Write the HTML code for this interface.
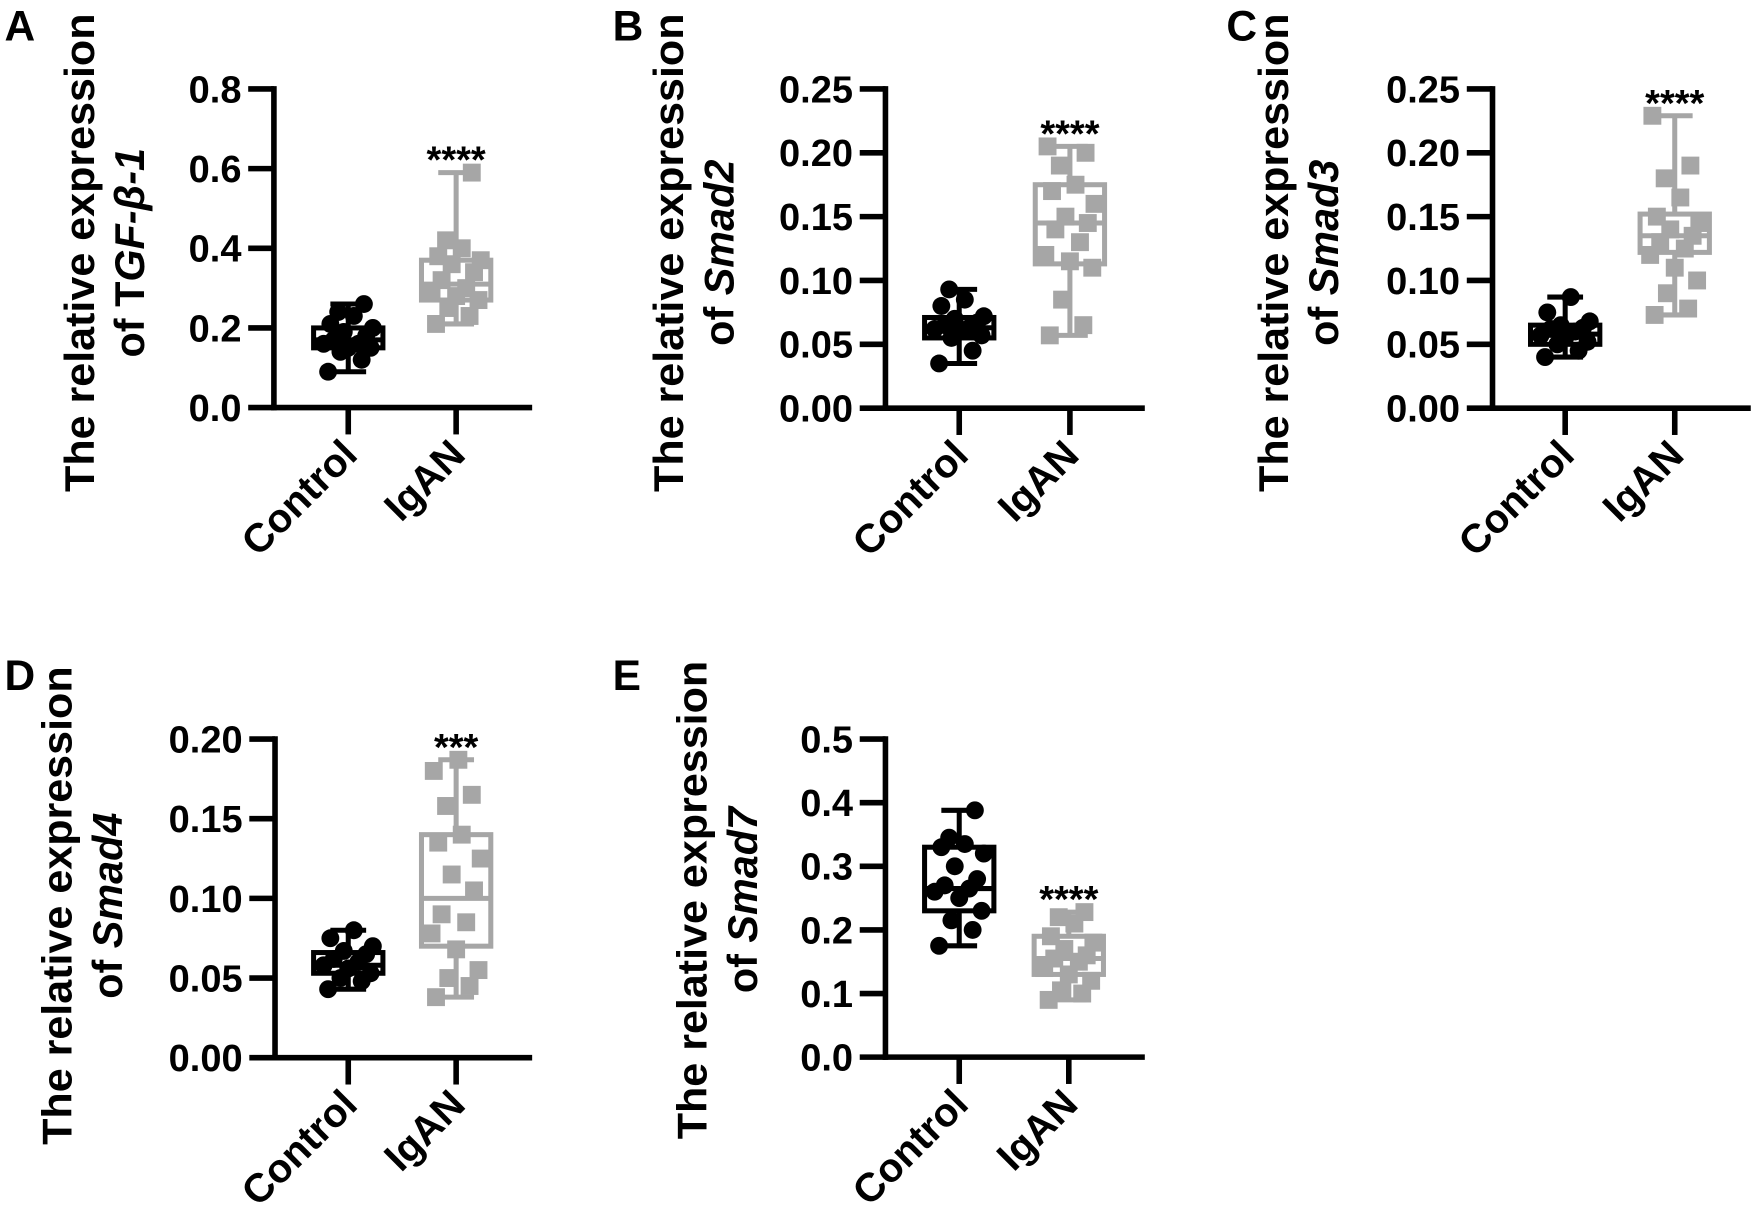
<!DOCTYPE html>
<html><head><meta charset="utf-8">
<style>
html,body{margin:0;padding:0;background:#fff;}
svg{display:block;}
text{font-family:"Liberation Sans",Arial,sans-serif;font-weight:bold;}
</style></head>
<body>
<svg id="fig" width="1753" height="1221" viewBox="0 0 1568 1092" xmlns="http://www.w3.org/2000/svg"></svg>
<script>
// ---- data ----
const groups = ["Control", "IgAN"];
const panelLetters = ["A", "B", "C", "D", "E"];
const genes = ["TGF-β-1", "Smad2", "Smad3", "Smad4", "Smad7"];
const yMax = [0.8, 0.25, 0.25, 0.20, 0.5];
const tickLabelsA = ["0.0","0.2","0.4","0.6","0.8"];
const tickLabelsB = ["0.00","0.05","0.10","0.15","0.20","0.25"];
const tickLabelsC = ["0.00","0.05","0.10","0.15","0.20","0.25"];
const tickLabelsD = ["0.00","0.05","0.10","0.15","0.20"];
const tickLabelsE = ["0.0","0.1","0.2","0.3","0.4","0.5"];
const stars = ["****","****","****","***","****"];
// box stats [min, q1, median, q3, max]
const boxA_ctrl = [0.09, 0.15, 0.17, 0.20, 0.26];
const boxA_igan = [0.21, 0.27, 0.31, 0.37, 0.59];
const boxB_ctrl = [0.035, 0.055, 0.063, 0.071, 0.093];
const boxB_igan = [0.057, 0.113, 0.145, 0.175, 0.205];
const boxC_ctrl = [0.040, 0.050, 0.058, 0.065, 0.087];
const boxC_igan = [0.073, 0.122, 0.135, 0.152, 0.229];
const boxD_ctrl = [0.043, 0.053, 0.058, 0.066, 0.080];
const boxD_igan = [0.038, 0.070, 0.100, 0.140, 0.187];
const boxE_ctrl = [0.175, 0.230, 0.265, 0.330, 0.388];
const boxE_igan = [0.090, 0.130, 0.155, 0.190, 0.228];
// individual points
const ptsA_ctrl = [0.09,0.12,0.14,0.15,0.15,0.16,0.16,0.17,0.18,0.19,0.20,0.21,0.23,0.24,0.26];
const ptsA_igan = [0.21,0.23,0.25,0.27,0.28,0.29,0.30,0.32,0.34,0.36,0.37,0.38,0.40,0.42,0.59];
const ptsB_ctrl = [0.035,0.045,0.055,0.057,0.060,0.062,0.063,0.065,0.067,0.070,0.072,0.080,0.085,0.093];
const ptsB_igan = [0.057,0.065,0.085,0.110,0.115,0.120,0.130,0.140,0.145,0.150,0.160,0.170,0.175,0.190,0.200,0.205];
const ptsC_ctrl = [0.040,0.045,0.050,0.052,0.055,0.057,0.060,0.062,0.063,0.065,0.068,0.075,0.087];
const ptsC_igan = [0.073,0.078,0.090,0.100,0.110,0.120,0.125,0.130,0.135,0.140,0.145,0.150,0.165,0.180,0.190,0.229];
const ptsD_ctrl = [0.043,0.048,0.050,0.053,0.056,0.058,0.060,0.062,0.065,0.067,0.070,0.075,0.080];
const ptsD_igan = [0.038,0.045,0.050,0.055,0.068,0.078,0.085,0.090,0.105,0.115,0.125,0.135,0.140,0.158,0.165,0.180,0.187];
const ptsE_ctrl = [0.175,0.200,0.215,0.230,0.250,0.260,0.265,0.270,0.280,0.300,0.320,0.330,0.335,0.345,0.388];
const ptsE_igan = [0.090,0.100,0.105,0.120,0.130,0.140,0.150,0.155,0.160,0.170,0.180,0.190,0.210,0.220,0.228];

// ---- layout (not data) ----
const layout = [
  {ax:245, top:79.5, bot:364.5, end:476, c:[311.5,408], t1:84, t2:129, tc:226, lx:4, ly:36},
  {ax:792, top:79.5, bot:365, end:1024, c:[858,957], t1:611, t2:656, tc:226, lx:548, ly:36},
  {ax:1335, top:79.5, bot:365, end:1566, c:[1400,1498], t1:1152, t2:1197, tc:226, lx:1097, ly:36},
  {ax:246, top:661, bot:946, end:476, c:[311.5,408], t1:64, t2:109, tc:810, lx:4, ly:617},
  {ax:792, top:661, bot:945.5, end:1024, c:[858,956], t1:632, t2:677, tc:805, lx:548, ly:617}
];
const tickSets = [tickLabelsA,tickLabelsB,tickLabelsC,tickLabelsD,tickLabelsE];
const boxes = [[boxA_ctrl,boxA_igan],[boxB_ctrl,boxB_igan],[boxC_ctrl,boxC_igan],[boxD_ctrl,boxD_igan],[boxE_ctrl,boxE_igan]];
const pts = [[ptsA_ctrl,ptsA_igan],[ptsB_ctrl,ptsB_igan],[ptsC_ctrl,ptsC_igan],[ptsD_ctrl,ptsD_igan],[ptsE_ctrl,ptsE_igan]];
const jitter = [-18,12,-7,20,0,-22,9,-13,16,-4,22,-16,5,-9,14,-20,2];
const colors = ["#000000", "#a6a6a6"];

const NS = "http://www.w3.org/2000/svg";
const svg = document.getElementById("fig");
function mk(tag, attrs, parent){
  const e = document.createElementNS(NS, tag);
  for (const k in attrs) e.setAttribute(k, attrs[k]);
  (parent||svg).appendChild(e);
  return e;
}

layout.forEach((L, p) => {
  const g = mk("g", {});
  
  
  const y = v => L.bot - v / yMax[p] * (L.bot - L.top);

  const letter = mk("text", {x:L.lx, y:L.ly, "font-size":38}, g);
  letter.textContent = panelLetters[p];
  
  

  const tt = mk("text", {transform:`translate(${L.t1},${L.tc}) rotate(-90)`, "text-anchor":"middle", "font-size":37, textLength:428, lengthAdjust:"spacingAndGlyphs"}, g);
  tt.textContent = "The relative expression";
  
  
  const t2 = mk("text", {transform:`translate(${L.t2},${L.tc}) rotate(-90)`, "text-anchor":"middle", "font-size":37}, g);
  
  
  const s1 = mk("tspan", {}, t2); s1.textContent = "of ";
  if (p === 0) { const s0 = mk("tspan", {}, t2); s0.textContent = "T"; }
  const s2 = mk("tspan", {"font-style":"italic"}, t2);
  s2.textContent = p === 0 ? "GF-β-1" : genes[p];

  const yax = mk("line", {x1:L.ax, y1:L.top-2.5, x2:L.ax, y2:L.bot+2.5, stroke:"#000", "stroke-width":5}, g);
  
  
  const xax = mk("line", {x1:L.ax-2.5, y1:L.bot, x2:L.end, y2:L.bot, stroke:"#000", "stroke-width":5}, g);
  
  

  const ticks = tickSets[p];
  ticks.forEach((lab) => {
    const v = parseFloat(lab);
    const ty = y(v);
    const tl = mk("line", {x1:L.ax-23, y1:ty, x2:L.ax, y2:ty, stroke:"#000", "stroke-width":5}, g);
    
    
    const tx = mk("text", {x:L.ax-29, y:ty+12, "text-anchor":"end", "font-size":34}, g);
    tx.textContent = lab;
    
    
  });

  groups.forEach((grp, gi) => {
    const cx = L.c[gi];
    const col = colors[gi];
    const xt = mk("line", {x1:cx, y1:L.bot, x2:cx, y2:L.bot+24, stroke:"#000", "stroke-width":5}, g);
    
    
    const xl = mk("text", {transform:`translate(${cx+10},${L.bot+44}) rotate(-45)`, "text-anchor":"end", "font-size":36}, g);
    xl.textContent = grp;
    
    

    const b = boxes[p][gi];
    const bg = mk("g", {stroke:col, "stroke-width":4.5, fill:"none"}, g);
    
    
    mk("line", {x1:cx, y1:y(b[0]), x2:cx, y2:y(b[1])}, bg);
    mk("line", {x1:cx, y1:y(b[3]), x2:cx, y2:y(b[4])}, bg);
    mk("line", {x1:cx-16, y1:y(b[0]), x2:cx+16, y2:y(b[0])}, bg);
    mk("line", {x1:cx-16, y1:y(b[4]), x2:cx+16, y2:y(b[4])}, bg);
    mk("rect", {x:cx-31, y:y(b[3]), width:62, height:y(b[1])-y(b[3])}, bg);
    mk("line", {x1:cx-31, y1:y(b[2]), x2:cx+31, y2:y(b[2])}, bg);

    pts[p][gi].forEach((v, i) => {
      const px = cx + jitter[i % jitter.length];
      let m;
      if (gi === 0) m = mk("circle", {cx:px, cy:y(v), r:8, fill:col}, g);
      else m = mk("rect", {x:px-8, y:y(v)-8, width:16, height:16, fill:col}, g);
      
      
    });

    if (gi === 1) {
      const st = mk("text", {x:cx, y:y(b[4])+0, "text-anchor":"middle", "font-size":34}, g);
      st.textContent = stars[p];
      
      
    }
  });
});
</script>
</body></html>
